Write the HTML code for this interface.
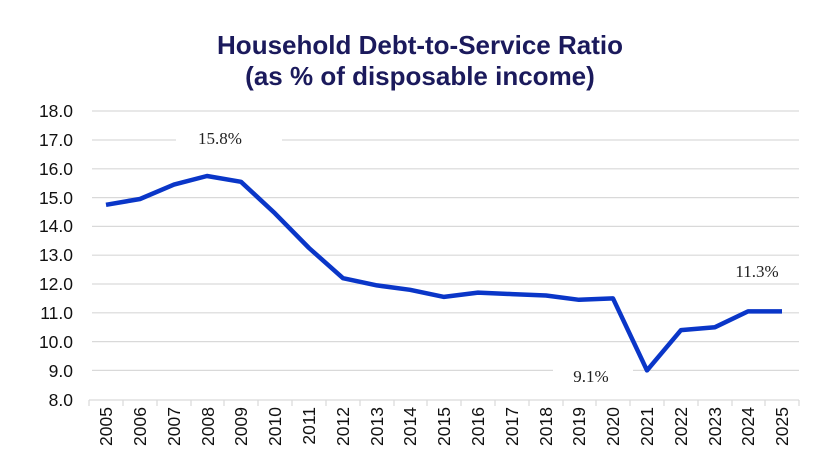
<!DOCTYPE html>
<html><head><style>body{margin:0;background:#fff}svg{display:block}</style></head><body>
<svg width="840" height="472" xmlns="http://www.w3.org/2000/svg">
<text x="420" y="54" text-anchor="middle" font-family="Liberation Sans, sans-serif" font-weight="bold" font-size="26" fill="#1b1a5c">Household Debt-to-Service Ratio</text>
<text x="420" y="85" text-anchor="middle" font-family="Liberation Sans, sans-serif" font-weight="bold" font-size="26" fill="#1b1a5c">(as % of disposable income)</text>
<g stroke="#d9d9d9" stroke-width="1.2">
<line x1="92" x2="799" y1="111" y2="111"/><line x1="92" x2="799" y1="140" y2="140"/><line x1="92" x2="799" y1="168.8" y2="168.8"/><line x1="92" x2="799" y1="197.6" y2="197.6"/><line x1="92" x2="799" y1="226.4" y2="226.4"/><line x1="92" x2="799" y1="255.2" y2="255.2"/><line x1="92" x2="799" y1="284" y2="284"/><line x1="92" x2="799" y1="312.8" y2="312.8"/><line x1="92" x2="799" y1="341.6" y2="341.6"/><line x1="92" x2="799" y1="370.4" y2="370.4"/>
<line x1="89" x2="799" y1="400" y2="400"/>
</g>
<rect x="176" y="130" width="106" height="20" fill="#fff"/>
<rect x="716" y="258" width="84" height="22" fill="#fff"/>
<rect x="553" y="362" width="80" height="20" fill="#fff"/>
<g stroke="#d9d9d9" stroke-width="1.2">
<line x1="89" x2="89" y1="400" y2="406"/><line x1="123" x2="123" y1="400" y2="406"/><line x1="157" x2="157" y1="400" y2="406"/><line x1="191" x2="191" y1="400" y2="406"/><line x1="224" x2="224" y1="400" y2="406"/><line x1="258" x2="258" y1="400" y2="406"/><line x1="292" x2="292" y1="400" y2="406"/><line x1="326" x2="326" y1="400" y2="406"/><line x1="360" x2="360" y1="400" y2="406"/><line x1="394" x2="394" y1="400" y2="406"/><line x1="427" x2="427" y1="400" y2="406"/><line x1="461" x2="461" y1="400" y2="406"/><line x1="495" x2="495" y1="400" y2="406"/><line x1="529" x2="529" y1="400" y2="406"/><line x1="563" x2="563" y1="400" y2="406"/><line x1="596" x2="596" y1="400" y2="406"/><line x1="630" x2="630" y1="400" y2="406"/><line x1="664" x2="664" y1="400" y2="406"/><line x1="698" x2="698" y1="400" y2="406"/><line x1="732" x2="732" y1="400" y2="406"/><line x1="765" x2="765" y1="400" y2="406"/><line x1="799" x2="799" y1="400" y2="406"/>
</g>
<g font-family="Liberation Sans, sans-serif" font-size="17.5" fill="#111" text-anchor="end">
<text x="73" y="117">18.0</text><text x="73" y="146">17.0</text><text x="73" y="175">16.0</text><text x="73" y="204">15.0</text><text x="73" y="232">14.0</text><text x="73" y="261">13.0</text><text x="73" y="290">12.0</text><text x="73" y="319">11.0</text><text x="73" y="348">10.0</text><text x="73" y="377">9.0</text><text x="73" y="406">8.0</text>
</g>
<g font-family="Liberation Sans, sans-serif" font-size="17.5" fill="#111" text-anchor="end">
<text transform="translate(112,407) rotate(-90)">2005</text><text transform="translate(146,407) rotate(-90)">2006</text><text transform="translate(180,407) rotate(-90)">2007</text><text transform="translate(214,407) rotate(-90)">2008</text><text transform="translate(247,407) rotate(-90)">2009</text><text transform="translate(281,407) rotate(-90)">2010</text><text transform="translate(315,407) rotate(-90)">2011</text><text transform="translate(349,407) rotate(-90)">2012</text><text transform="translate(383,407) rotate(-90)">2013</text><text transform="translate(416,407) rotate(-90)">2014</text><text transform="translate(450,407) rotate(-90)">2015</text><text transform="translate(484,407) rotate(-90)">2016</text><text transform="translate(518,407) rotate(-90)">2017</text><text transform="translate(552,407) rotate(-90)">2018</text><text transform="translate(585,407) rotate(-90)">2019</text><text transform="translate(619,407) rotate(-90)">2020</text><text transform="translate(653,407) rotate(-90)">2021</text><text transform="translate(687,407) rotate(-90)">2022</text><text transform="translate(721,407) rotate(-90)">2023</text><text transform="translate(754,407) rotate(-90)">2024</text><text transform="translate(788,407) rotate(-90)">2025</text>
</g>
<polyline fill="none" stroke="#0a36c8" stroke-width="4.5" stroke-linejoin="round" points="106,204.8 140,199 174,184.6 207,176 241,181.8 275,213.4 309,248 343,278.2 377,285.4 410,289.8 444,296.9 478,292.6 512,294.1 546,295.5 579,299.8 613,298.4 647,370.4 681,330.1 715,327.2 748,311.4 782,311.4"/>
<g font-family="Liberation Serif, serif" font-size="17" fill="#222" text-anchor="middle">
<text x="220" y="144">15.8%</text><text x="757" y="277">11.3%</text><text x="591" y="382">9.1%</text>
</g>
</svg>
</body></html>
